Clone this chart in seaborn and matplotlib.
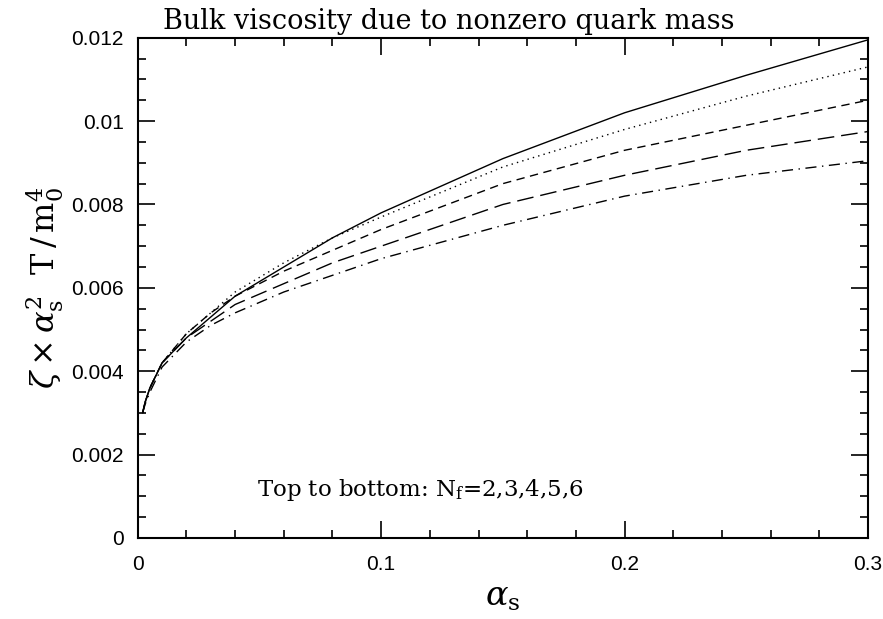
import numpy as np
import pandas as pd
import seaborn as sns
import matplotlib.pyplot as plt
from matplotlib.ticker import MultipleLocator

# values
alpha_s = [0.002, 0.003, 0.005, 0.0075, 0.01, 0.015, 0.02, 0.03, 0.04, 0.06, 0.08, 0.1, 0.15, 0.2, 0.25, 0.3]
nf2 = [0.0030, 0.00325, 0.0036, 0.0039, 0.0042, 0.0045, 0.0048, 0.0053, 0.0058, 0.0065, 0.0072, 0.0078, 0.0091, 0.0102, 0.0111, 0.01195]
nf3 = [0.0030, 0.00325, 0.0036, 0.0039, 0.0042, 0.00455, 0.0049, 0.0054, 0.0059, 0.0066, 0.0072, 0.0077, 0.0089, 0.0098, 0.0106, 0.0113]
nf4 = [0.0030, 0.00325, 0.0036, 0.0039, 0.0042, 0.00455, 0.0049, 0.0054, 0.0058, 0.0064, 0.0069, 0.0074, 0.0085, 0.0093, 0.0099, 0.0105]
nf5 = [0.0030, 0.00325, 0.0036, 0.0039, 0.0042, 0.0045, 0.0048, 0.0052, 0.0056, 0.0061, 0.0066, 0.0070, 0.0080, 0.0087, 0.0093, 0.00975]
nf6 = [0.0030, 0.0032, 0.0035, 0.0038, 0.0041, 0.0044, 0.0047, 0.0051, 0.0054, 0.0059, 0.0063, 0.0067, 0.0075, 0.0082, 0.0087, 0.00905]

series = {'2': nf2, '3': nf3, '4': nf4, '5': nf5, '6': nf6}
df = pd.concat([pd.DataFrame({'alpha': alpha_s, 'zeta': v, 'Nf': k}) for k, v in series.items()])

sns.set_style('ticks')
plt.rcParams['font.family'] = ['Liberation Sans', 'DejaVu Sans']
plt.rcParams['mathtext.fontset'] = 'dejavuserif'
plt.rcParams['text.color'] = 'black'
plt.rcParams['xtick.color'] = 'black'
plt.rcParams['ytick.color'] = 'black'
plt.rcParams['axes.labelcolor'] = 'black'

fig = plt.figure(figsize=(8.83, 6.19), dpi=100)
ax = fig.add_axes([0.156, 0.131, 0.827, 0.808])

sns.lineplot(data=df, x='alpha', y='zeta', style='Nf', color='black', linewidth=1.0,
             dashes=['', (1, 3), (6, 4), (12, 5), (8, 4, 1, 4)], legend=False, ax=ax)

ax.set_xlim(0, 0.3)
ax.set_ylim(0, 0.012)
ax.xaxis.set_major_locator(MultipleLocator(0.1))
ax.xaxis.set_minor_locator(MultipleLocator(0.02))
ax.yaxis.set_major_locator(MultipleLocator(0.002))
ax.yaxis.set_minor_locator(MultipleLocator(0.0005))
ax.set_xticks([0, 0.1, 0.2, 0.3], ['0', '0.1', '0.2', '0.3'])
ax.set_yticks([0, 0.002, 0.004, 0.006, 0.008, 0.01, 0.012],
              ['0', '0.002', '0.004', '0.006', '0.008', '0.01', '0.012'])
ax.tick_params(which='both', direction='in', top=True, right=True, labelsize=15, width=1.2)
ax.tick_params(axis='x', which='major', length=12, pad=12)
ax.tick_params(axis='y', which='major', length=12, pad=10)
ax.tick_params(which='minor', length=6)
for s in ax.spines.values():
    s.set_linewidth(1.5)
    s.set_color('black')

ax.set_xlabel(r'$\alpha_{\rm s}$', fontsize=24, labelpad=6)
ax.set_ylabel(r'$\zeta\times\alpha_{\rm s}^{2}\ \ {\rm T}\,/\,{\rm m}_0^4$', fontsize=23, labelpad=4)
ax.set_title('Bulk viscosity due to nonzero quark mass', family=['DejaVu Serif'], fontsize=19.5,
             x=0.426, pad=6)
ax.text(0.1163, 0.00115, r'Top to bottom: N$_{\rm f}$=2,3,4,5,6', family=['DejaVu Serif'],
        fontsize=16.5, ha='center', va='center')

fig.savefig('out.png', dpi=100)
